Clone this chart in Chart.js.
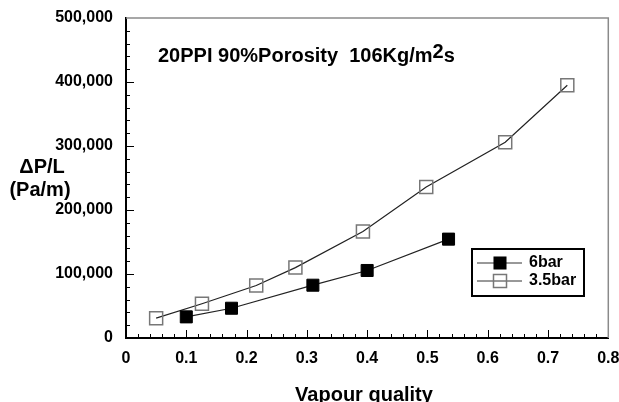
<!DOCTYPE html>
<html>
<head>
<meta charset="utf-8">
<script src="https://cdn.jsdelivr.net/npm/chart.js@4.4.1/dist/chart.umd.min.js"></script>
<style>
  html, body { margin: 0; padding: 0; background: #fff; }
  #wrap { width: 619px; height: 402px; }
</style>
</head>
<body>
<div id="wrap"><canvas id="chart" width="619" height="402"></canvas></div>
<script>
// data
const seriesNames = ['6bar', '3.5bar'];
const x6bar = [0.1, 0.175, 0.31, 0.4, 0.535];
const y6bar = [33000, 46500, 82500, 105500, 154500];
const x35bar = [0.05, 0.126, 0.216, 0.281, 0.393, 0.498, 0.629, 0.732];
const y35bar = [31000, 53500, 82000, 110000, 166500, 236000, 306000, 395000];

const xTicks = [0, 0.1, 0.2, 0.3, 0.4, 0.5, 0.6, 0.7, 0.8];
const yTicks = [0, 100000, 200000, 300000, 400000, 500000];
const xTickLabels = ['0', '0.1', '0.2', '0.3', '0.4', '0.5', '0.6', '0.7', '0.8'];
const yTickLabels = ['0', '100,000', '200,000', '300,000', '400,000', '500,000'];

const FONT = '"Liberation Sans", Arial, sans-serif';

function toPoints(xs, ys) {
    return xs.map((x, i) => ({ x: x, y: ys[i] }));
}

// inner tick marks, frame, titles and legend box
const decor = {
    id: 'decor',
    afterDraw(chart) {
        const ctx = chart.ctx;
        const a = chart.chartArea;
        const sx = chart.scales.x, sy = chart.scales.y;
        ctx.save();

        // grey top / right frame
        ctx.strokeStyle = '#8a8a8a';
        ctx.lineWidth = 1.5;
        ctx.beginPath();
        ctx.moveTo(a.left, a.top);
        ctx.lineTo(a.right, a.top);
        ctx.lineTo(a.right, a.bottom);
        ctx.stroke();

        // ticks pointing inward
        ctx.strokeStyle = '#000';
        ctx.lineWidth = 1;
        ctx.beginPath();
        for (let i = 1; i < 40; i++) {
            const px = Math.round(sx.getPixelForValue(i * 0.02)) + 0.5;
            const len = i % 5 === 0 ? 8 : 4;
            ctx.moveTo(px, a.bottom);
            ctx.lineTo(px, a.bottom - len);
        }
        for (let i = 1; i < 25; i++) {
            const py = Math.round(sy.getPixelForValue(i * 20000)) + 0.5;
            const len = i % 5 === 0 ? 8 : 4;
            ctx.moveTo(a.left, py);
            ctx.lineTo(a.left + len, py);
        }
        ctx.stroke();

        // text in the plot
        ctx.fillStyle = '#000';
        ctx.textBaseline = 'alphabetic';
        ctx.textAlign = 'left';
        ctx.font = 'bold 20px ' + FONT;
        const t1 = '20PPI 90%Porosity  106Kg/m';
        let tx = 158, ty = 62;
        ctx.fillText(t1, tx, ty);
        tx += ctx.measureText(t1).width;
        ctx.fillText('2', tx, ty - 4);
        tx += ctx.measureText('2').width;
        ctx.fillText('s', tx, ty);

        // y axis title
        ctx.textAlign = 'center';
        ctx.textBaseline = 'middle';
        ctx.font = 'bold 20px ' + FONT;
        ctx.fillText('\u0394P/L', 42, 167);
        ctx.fillText('(Pa/m)', 40, 190);

        // x axis title
        ctx.font = 'bold 20px ' + FONT;
        ctx.textBaseline = 'alphabetic';
        ctx.fillText('Vapour quality', 364, 401);

        // legend
        ctx.lineWidth = 2;
        ctx.strokeStyle = '#000';
        ctx.strokeRect(472, 249, 112, 47);
        const rows = [263, 281];
        chart.data.datasets.forEach((ds, i) => {
            const y = rows[i];
            ctx.lineWidth = 1;
            ctx.strokeStyle = '#333';
            ctx.beginPath();
            ctx.moveTo(477, y);
            ctx.lineTo(522, y);
            ctx.stroke();
            const s = ds.pointRadius * Math.SQRT1_2;
            if (ds.pointBackgroundColor !== 'transparent') {
                ctx.fillStyle = ds.pointBackgroundColor;
                ctx.fillRect(500 - s, y - s, 2 * s, 2 * s);
            }
            ctx.lineWidth = ds.pointBorderWidth;
            ctx.strokeStyle = ds.pointBorderColor;
            ctx.strokeRect(500 - s, y - s, 2 * s, 2 * s);
            ctx.fillStyle = '#000';
            ctx.font = 'bold 16px ' + FONT;
            ctx.textAlign = 'left';
            ctx.textBaseline = 'middle';
            ctx.fillText(ds.label, 529, y);
        });

        ctx.restore();
    }
};

new Chart(document.getElementById('chart'), {
    type: 'line',
    data: {
        datasets: [
            {
                label: seriesNames[0],
                data: toPoints(x6bar, y6bar),
                borderColor: '#222',
                borderWidth: 1.2,
                pointStyle: 'rect',
                pointRadius: 8.5,
                pointBackgroundColor: '#000',
                pointBorderColor: '#000',
                pointBorderWidth: 1
            },
            {
                label: seriesNames[1],
                data: toPoints(x35bar, y35bar),
                borderColor: '#222',
                borderWidth: 1.2,
                pointStyle: 'rect',
                pointRadius: 9.2,
                pointBackgroundColor: 'transparent',
                pointBorderColor: '#777',
                pointBorderWidth: 1.5
            }
        ]
    },
    options: {
        responsive: false,
        animation: false,
        layout: { padding: { top: 18, right: 10, left: 0, bottom: 0 } },
        plugins: {
            legend: { display: false },
            tooltip: { enabled: false }
        },
        scales: {
            x: {
                type: 'linear',
                min: 0,
                max: 0.8,
                afterBuildTicks: s => { s.ticks = xTicks.map(v => ({ value: v })); },
                afterFit: s => { s.height = 64; s.paddingLeft = 0; s.paddingRight = 0; },
                ticks: {
                    padding: 11,
                    color: '#000',
                    font: { family: FONT, size: 16, weight: 'bold' },
                    callback: (v, i) => xTickLabels[i]
                },
                grid: { display: false, drawTicks: false },
                border: { display: true, color: '#000', width: 2 }
            },
            y: {
                type: 'linear',
                min: 0,
                max: 500000,
                afterBuildTicks: s => { s.ticks = yTicks.map(v => ({ value: v })); },
                afterFit: s => { s.width = 126; s.paddingTop = 0; s.paddingBottom = 0; },
                ticks: {
                    padding: 13,
                    color: '#000',
                    font: { family: FONT, size: 16, weight: 'bold' },
                    callback: (v, i) => yTickLabels[i]
                },
                grid: { display: false, drawTicks: false },
                border: { display: true, color: '#000', width: 2 }
            }
        }
    },
    plugins: [decor]
});
</script>
</body>
</html>
